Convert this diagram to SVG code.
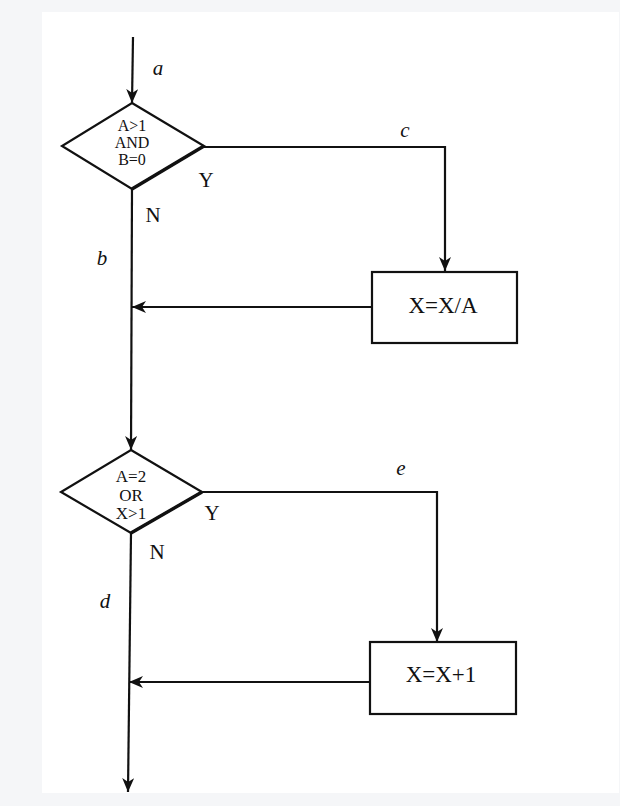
<svg xmlns="http://www.w3.org/2000/svg" width="620" height="806" viewBox="0 0 620 806">
<style>
.ln{fill:none;stroke:#111;stroke-width:2.2}
.shape{fill:#fff;stroke:#111;stroke-width:2.2}
.t{font-family:"Liberation Serif","Times New Roman",serif;fill:#111;text-anchor:middle}
.lbl{font-family:"Liberation Serif","Times New Roman",serif;font-style:italic;font-size:21px;fill:#111;text-anchor:middle}
</style>
<defs>
<marker id="ah" viewBox="0 0 14 12" refX="14" refY="6" markerWidth="14" markerHeight="12" markerUnits="userSpaceOnUse" orient="auto">
<path d="M0,0 L14,6 L0,12 L4,6 Z" fill="#111"/>
</marker>
</defs>
<rect width="620" height="806" fill="#f5f6f8"/>
<rect x="42" y="12" width="577" height="781" fill="#fff"/>
<g id="connectors">
<path class="ln" d="M133,37 L132,103" marker-end="url(#ah)"/>
<path class="ln" d="M204,147 H445 V271" marker-end="url(#ah)"/>
<path class="ln" d="M132,189 L131,450" marker-end="url(#ah)"/>
<path class="ln" d="M372,307 H132" marker-end="url(#ah)"/>
<path class="ln" d="M202,492 H437 V642" marker-end="url(#ah)"/>
<path class="ln" d="M131,533 L128,792" marker-end="url(#ah)"/>
<path class="ln" d="M370,682 H129" marker-end="url(#ah)"/>
<text class="lbl" x="158" y="75">a</text>
<text class="lbl" x="102" y="265">b</text>
<text class="lbl" x="405" y="137">c</text>
<text class="lbl" x="105" y="608">d</text>
<text class="lbl" x="401" y="475">e</text>
</g>
<g id="decision1">
<polygon class="shape" points="132,103 204,146 132,189 62,146"/>
<path d="M204,146 L132,189" stroke="#111" stroke-width="3.4" fill="none"/>
<text class="t" font-size="16" x="132" y="131">A&gt;1</text>
<text class="t" font-size="16" x="132" y="148">AND</text>
<text class="t" font-size="16" x="132" y="165">B=0</text>
<text class="t" font-size="21" x="206" y="187">Y</text>
<text class="t" font-size="21" x="153" y="222">N</text>
</g>
<g id="process1">
<rect class="shape" x="372" y="272" width="145" height="71"/>
<text class="t" font-size="23" x="443" y="313">X=X/A</text>
</g>
<g id="decision2">
<polygon class="shape" points="131,450 202,492 131,533 61,492"/>
<path d="M202,492 L131,533" stroke="#111" stroke-width="3.4" fill="none"/>
<text class="t" font-size="17" x="131" y="482">A=2</text>
<text class="t" font-size="17" x="131" y="500.5">OR</text>
<text class="t" font-size="17" x="131" y="519">X&gt;1</text>
<text class="t" font-size="21" x="212" y="520">Y</text>
<text class="t" font-size="21" x="157" y="559">N</text>
</g>
<g id="process2">
<rect class="shape" x="370" y="642" width="146" height="72"/>
<text class="t" font-size="23" x="441" y="682">X=X+1</text>
</g>
</svg>
